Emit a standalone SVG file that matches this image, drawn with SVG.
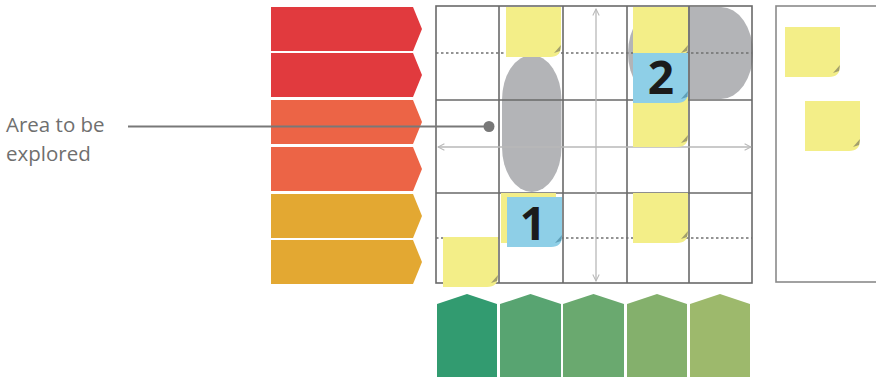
<svg xmlns="http://www.w3.org/2000/svg" xmlns:xlink="http://www.w3.org/1999/xlink" width="876" height="377" viewBox="0 0 876 377">
<style>
.grid{stroke:#6a6a6a;stroke-width:1.6;fill:none}
.dot{stroke:#707070;stroke-width:1.4;stroke-dasharray:2.5 2.5;fill:none}
.arr{stroke:#b8b8b8;stroke-width:1.3;fill:none}
.gray{fill:#b3b4b7}
.yel{fill:#f3ee88}
.blu{fill:#8ecfe7}
.yfold{fill:#a29f6c}
.bfold{fill:#5f9fb8}
.num{font-family:"Open Sans","DejaVu Sans",sans-serif;font-weight:700;font-size:46px;fill:#1b1b1b;text-anchor:middle}
.lbl{font-family:"Open Sans","DejaVu Sans",sans-serif;font-size:20.5px;fill:#6f6f6f}
.red{fill:#e13a3e}
.org{fill:#ec6446}
.amb{fill:#e3a832}
</style>
<defs>
<path id="note" d="M0,0H55V39Q55,50 44,50H0Z"/>
<path id="fold" d="M55,38L48,46L54,44Z"/>
<polygon id="chev" points="0,0 142,0 151,22 142,44 0,44"/>
<marker id="ah" viewBox="0 0 10 10" refX="9" refY="5" markerWidth="8" markerHeight="8" orient="auto-start-reverse" markerUnits="userSpaceOnUse">
<path d="M1,1L9,5L1,9" fill="none" stroke="#b8b8b8" stroke-width="1.3"/>
</marker>
</defs>
<rect width="876" height="377" fill="#fff"/>

<g id="rows">
<use href="#chev" x="271" y="7" class="red"/>
<use href="#chev" x="271" y="53" class="red"/>
<use href="#chev" x="271" y="100" class="org"/>
<use href="#chev" x="271" y="147" class="org"/>
<use href="#chev" x="271" y="194" class="amb"/>
<use href="#chev" x="271" y="240" class="amb"/>
</g>

<g id="columns">
<polygon points="437,304 467,294 497,304 497,377 437,377" fill="#329b70"/>
<polygon points="500,304 530.5,294 561,304 561,377 500,377" fill="#58a471"/>
<polygon points="563,304 593.5,294 624,304 624,377 563,377" fill="#6aa96f"/>
<polygon points="627,304 657,294 687,304 687,377 627,377" fill="#84b06c"/>
<polygon points="690,304 720,294 750,304 750,377 690,377" fill="#9db96c"/>
</g>

<g id="areas">
<rect x="502" y="55" width="59.5" height="137" rx="29.75" ry="45" class="gray"/>
<rect x="628" y="7" width="125" height="92" rx="32" ry="46" class="gray"/>
</g>

<g id="board">
<rect x="436" y="6" width="316" height="277" class="grid"/>
<path class="grid" d="M499,6V283M563,6V283M627,6V283M689,6V283M436,100H752M436,193H752"/>
<path class="dot" d="M436,53H752M436,238H752"/>
</g>

<g id="connectors">
<line x1="596" y1="9" x2="596" y2="281" class="arr" marker-start="url(#ah)" marker-end="url(#ah)"/>
<line x1="438" y1="147" x2="751" y2="147" class="arr" marker-start="url(#ah)" marker-end="url(#ah)"/>
<line x1="128" y1="126.5" x2="489" y2="126.5" stroke="#787878" stroke-width="2"/>
<circle cx="489" cy="126.5" r="5.5" fill="#787878"/>
</g>

<g id="panel">
<rect x="776" y="6" width="110" height="276" fill="none" stroke="#8a8a8a" stroke-width="1.6"/>
</g>

<g id="notes">
<g id="noteA"><use href="#note" x="506" y="7" class="yel"/><use href="#fold" x="506" y="7" class="yfold"/></g>
<g id="noteB"><use href="#note" x="633" y="7" class="yel"/><use href="#fold" x="633" y="7" class="yfold"/></g>
<g id="noteC"><use href="#note" x="633" y="97" class="yel"/><use href="#fold" x="633" y="97" class="yfold"/></g>
<g id="note2"><use href="#note" x="633" y="53" class="blu"/><use href="#fold" x="633" y="53" class="bfold"/><text x="661" y="94" class="num">2</text></g>
<g id="noteD"><use href="#note" x="501" y="193" class="yel"/><use href="#fold" x="501" y="193" class="yfold"/></g>
<g id="note1"><use href="#note" x="507" y="197" class="blu"/><use href="#fold" x="507" y="197" class="bfold"/><text x="533" y="240" class="num">1</text></g>
<g id="noteE"><use href="#note" x="633" y="193" class="yel"/><use href="#fold" x="633" y="193" class="yfold"/></g>
<g id="noteF"><use href="#note" x="443" y="237" class="yel"/><use href="#fold" x="443" y="237" class="yfold"/></g>
<g id="noteG"><use href="#note" x="785" y="27" class="yel"/><use href="#fold" x="785" y="27" class="yfold"/></g>
<g id="noteH"><use href="#note" x="805" y="101" class="yel"/><use href="#fold" x="805" y="101" class="yfold"/></g>
</g>

<g id="label">
<text class="lbl"><tspan x="6" y="132">Area to be</tspan><tspan x="6" y="160.5">explored</tspan></text>
</g>
</svg>
